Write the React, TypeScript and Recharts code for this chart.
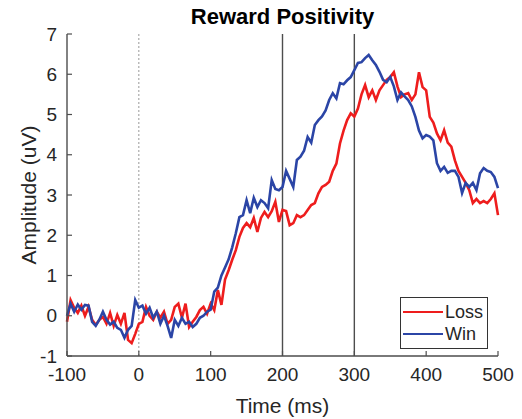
import { LineChart, Line, XAxis, YAxis, ReferenceLine, Legend } from 'recharts';

const timeMs = [
  -100, -95, -90, -85, -80, -75, -70, -65, -60, -55, -50, -45, -40, -35, -30, -25, -20, -15, -10, -5,
  0, 5, 10, 15, 20, 25, 30, 35, 40, 45, 50, 55, 60, 65, 70, 75, 80, 85, 90, 95,
  100, 105, 110, 115, 120, 125, 130, 135, 140, 145, 150, 155, 160, 165, 170, 175, 180, 185, 190, 195,
  200, 205, 210, 215, 220, 225, 230, 235, 240, 245, 250, 255, 260, 265, 270, 275, 280, 285, 290, 295,
  300, 305, 310, 315, 320, 325, 330, 335, 340, 345, 350, 355, 360, 365, 370, 375, 380, 385, 390, 395,
  400, 405, 410, 415, 420, 425, 430, 435, 440, 445, 450, 455, 460, 465, 470, 475, 480, 485, 490, 495,
  500,
];

const lossAmp = [
  -0.15, 0.39, 0.2, 0.07, 0.25, 0.0, 0.22, -0.1, -0.23, -0.1, -0.03, -0.2, 0.07, -0.25, 0.02, -0.2, 0.07, -0.6, -0.68, -0.45,
  -0.2, -0.15, 0.22, 0.0, -0.1, 0.1, -0.05, 0.1, -0.2, -0.1, 0.22, 0.3, -0.05, 0.3, -0.28, -0.15, -0.03, 0.14, 0.22, 0.05,
  0.3, 0.14, 0.64, 0.27, 0.9, 1.13, 1.39, 1.63, 1.96, 2.18, 2.3, 2.2, 2.43, 2.08, 2.43, 2.58, 2.45, 2.6, 2.83, 2.33,
  2.63, 2.6, 2.25, 2.3, 2.5, 2.45, 2.5, 2.63, 2.75, 2.8, 3.04, 3.2, 3.25, 3.33, 3.6, 3.78, 4.28, 4.6, 4.86, 5.03,
  4.95, 5.15, 5.5, 5.73, 5.43, 5.6, 5.36, 5.6, 5.73, 5.86, 5.93, 6.05, 5.7, 5.43, 5.5, 5.53, 5.36, 5.5, 6.05, 5.68,
  5.6, 4.94, 4.8, 4.53, 4.36, 4.61, 4.3, 4.2, 3.86, 3.6, 3.45, 3.3, 3.12, 2.8, 2.9, 2.8, 2.85, 2.8, 2.9, 3.04,
  2.5,
];

const winAmp = [
  0.0, 0.3, 0.1, 0.28, 0.15, 0.27, 0.25, -0.15, -0.25, -0.1, 0.1, -0.1, -0.22, -0.15, -0.3, -0.35, -0.55, -0.35, -0.25, 0.39,
  0.2, 0.25, 0.05, 0.2, -0.05, 0.1, -0.2, 0.0, -0.25, -0.55, -0.1, -0.25, -0.05, -0.2, -0.15, -0.28, -0.2, -0.05, 0.0, 0.1,
  0.15, 0.6, 0.7, 1.0, 1.2, 1.4, 1.7, 2.05, 2.45, 2.5, 2.87, 2.55, 2.93, 2.7, 2.87, 2.8, 2.67, 3.37, 3.15, 3.12,
  3.2, 3.6, 3.4, 3.2, 3.87, 3.95, 4.1, 4.44, 4.3, 4.74, 4.86, 4.95, 5.1, 5.36, 5.53, 5.4, 5.78, 5.75, 5.85, 5.93,
  6.1, 6.28, 6.3, 6.4, 6.48, 6.35, 6.23, 6.06, 5.86, 5.8, 5.93, 5.7, 5.36, 5.55, 5.45, 5.36, 5.2, 4.94, 4.6, 4.41,
  4.49, 4.45, 4.36, 3.79, 3.6, 3.7, 3.55, 3.6, 3.6, 3.45, 3.05, 3.3, 3.2, 3.3, 3.12, 3.54, 3.67, 3.6, 3.57, 3.45,
  3.17,
];

const xTicks = [-100, 0, 100, 200, 300, 400, 500];
const yTicks = [-1, 0, 1, 2, 3, 4, 5, 6, 7];
const windowMarks = [200, 300];

const FONT = '"Liberation Sans", Arial, Helvetica, sans-serif';
const INK = '#262626';
const AXIS = '#4d4d4d';

const chartData = timeMs.map((t, i) => ({ t, loss: lossAmp[i], win: winAmp[i] }));

// matlab style: ticks point into the plot
function YTick({ x, y, payload }: any) {
  return (
    <g>
      <line x1={x + 10} x2={x + 15} y1={y} y2={y} stroke={AXIS} strokeWidth={1.2} />
      <text x={x} y={y} dy="0.35em" textAnchor="end" fill={INK} fontSize={19} fontFamily={FONT}>
        {payload.value}
      </text>
    </g>
  );
}

function XTick({ x, y, payload }: any) {
  return (
    <g>
      <line x1={x} x2={x} y1={y - 12} y2={y - 17} stroke={AXIS} strokeWidth={1.2} />
      <text x={x} y={y} dy="0.71em" textAnchor="middle" fill={INK} fontSize={19} fontFamily={FONT}>
        {payload.value}
      </text>
    </g>
  );
}

function LegendBox({ payload }: any) {
  return (
    <div
      style={{
        border: '1px solid #333',
        background: '#fff',
        padding: '3px 4px 3px 2px',
        fontFamily: FONT,
        fontSize: 18,
        color: INK,
      }}
    >
      {(payload || []).map((p: any) => (
        <div key={p.value} style={{ display: 'flex', alignItems: 'center', height: 22 }}>
          <span style={{ width: 40, borderTop: `2.5px solid ${p.color}`, marginRight: 2 }} />
          {p.value}
        </div>
      ))}
    </div>
  );
}

export default function App() {
  return (
    <div style={{ position: 'absolute', left: 0, top: 0, width: 522, height: 419, background: '#fff', overflow: 'hidden' }}>
      <div
        style={{
          position: 'absolute',
          top: 6,
          left: 67,
          width: 431,
          textAlign: 'center',
          fontFamily: FONT,
          fontWeight: 'bold',
          fontSize: 22,
          lineHeight: '22px',
          color: '#000',
        }}
      >
        Reward Positivity
      </div>
      <LineChart width={522} height={419} data={chartData} margin={{ top: 34, right: 24, left: 20, bottom: 33 }}>
        <XAxis
          dataKey="t"
          type="number"
          domain={[-100, 500]}
          ticks={xTicks}
          height={30}
          tickSize={0}
          tickMargin={12}
          tickLine={false}
          tick={XTick}
          axisLine={{ stroke: AXIS, strokeWidth: 1.4 }}
          label={{
            value: 'Time (ms)',
            position: 'bottom',
            offset: 12,
            fill: INK,
            fontSize: 21,
            fontFamily: FONT,
          }}
        />
        <YAxis
          type="number"
          domain={[-1, 7]}
          ticks={yTicks}
          width={47}
          tickSize={0}
          tickMargin={10}
          tickLine={false}
          tick={YTick}
          axisLine={{ stroke: AXIS, strokeWidth: 1.4 }}
          label={{
            value: 'Amplitude (uV)',
            angle: -90,
            position: 'center',
            dx: -15,
            fill: INK,
            fontSize: 21,
            fontFamily: FONT,
          }}
        />
        <ReferenceLine x={0} stroke="#999" strokeDasharray="2 2" strokeWidth={1} />
        {windowMarks.map((m) => (
          <ReferenceLine key={m} x={m} stroke={AXIS} strokeWidth={1.4} />
        ))}
        <Line
          type="linear"
          dataKey="loss"
          name="Loss"
          stroke="#ee1d1d"
          strokeWidth={2.6}
          dot={false}
          isAnimationActive={false}
        />
        <Line
          type="linear"
          dataKey="win"
          name="Win"
          stroke="#2b45a6"
          strokeWidth={2.6}
          dot={false}
          isAnimationActive={false}
        />
        <Legend
          layout="vertical"
          align="center"
          verticalAlign="middle"
          content={LegendBox}
          wrapperStyle={{ left: 400, top: 297, width: 'auto' }}
        />
      </LineChart>
    </div>
  );
}
